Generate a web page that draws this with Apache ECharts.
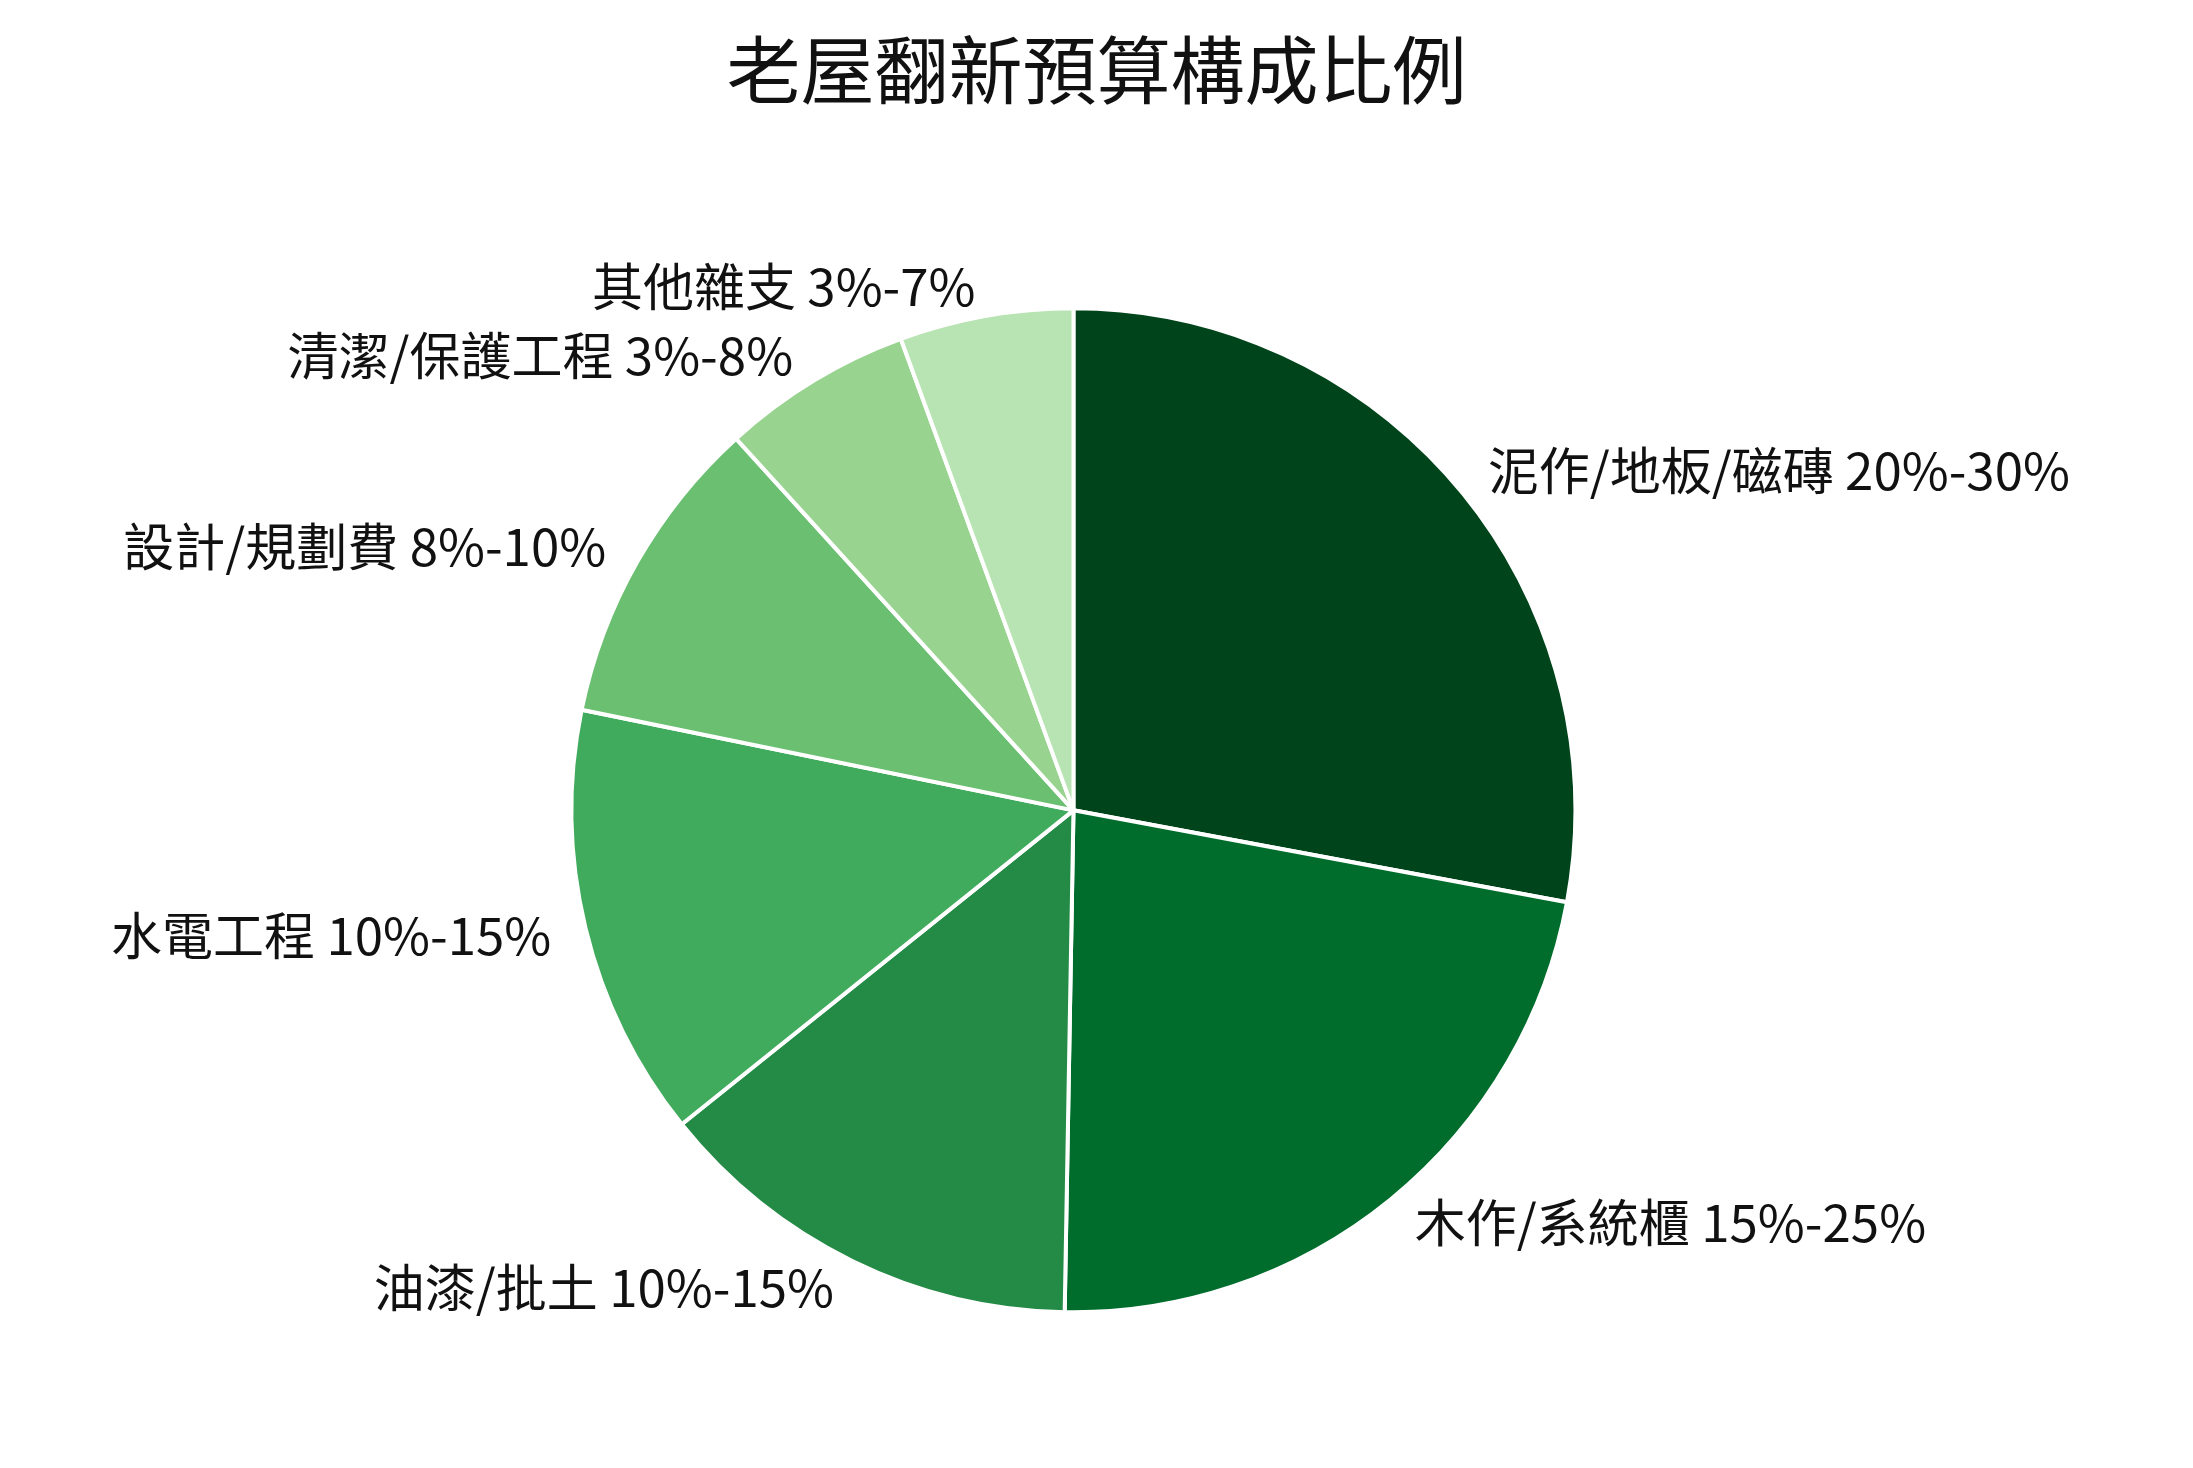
<!DOCTYPE html>
<html>
<head>
<meta charset="utf-8">
<script src="https://cdn.jsdelivr.net/npm/echarts@6/dist/echarts.min.js"></script>
<style>html,body{margin:0;background:#fff}#container{width:2193px;height:1468px}</style>
</head>
<body>
<div id="container"></div>
<script>
var dom = document.getElementById("container");
var myChart = echarts.init(dom);

var categories = ['泥作/地板/磁磚', '木作/系統櫃', '油漆/批土', '水電工程', '設計/規劃費', '清潔/保護工程', '其他雜支'];
var ranges = ['20%-30%', '15%-25%', '10%-15%', '10%-15%', '8%-10%', '3%-8%', '3%-7%'];
var values = [25, 20, 12.5, 12.5, 9, 5.5, 5];
var colors = ['#00441b', '#006d2c', '#238b45', '#41ab5d', '#6abf71', '#98d390', '#b8e3b2'];

var pieData = categories.map(function (c, i) {
    return { name: c, value: values[i], range: ranges[i], itemStyle: { color: colors[i] } };
});

var option = {
    backgroundColor: '#fff',
    textStyle: { fontFamily: 'Noto Sans CJK TC' },
    title: {
        text: '老屋翻新預算構成比例',
        left: 'center',
        top: 28,
        textStyle: { fontSize: 74, fontWeight: 'normal', color: '#111', fontFamily: 'Noto Sans CJK TC' }
    },
    series: [
        {
            type: 'pie',
            center: ['48.95%', '55.2%'],
            radius: 502,
            startAngle: 90,
            clockwise: true,
            avoidLabelOverlap: false,
            itemStyle: { borderColor: '#fff', borderWidth: 4 },
            label: {
                show: true,
                position: 'outside',
                fontSize: 51,
                color: '#111',
                fontFamily: 'Noto Sans CJK TC',
                formatter: function (p) { return p.name + ' ' + p.data.range; }
            },
            labelLine: { show: false, length: 30, length2: 0 },
            data: pieData
        }
    ]
};
myChart.setOption(option);
</script>
</body>
</html>
